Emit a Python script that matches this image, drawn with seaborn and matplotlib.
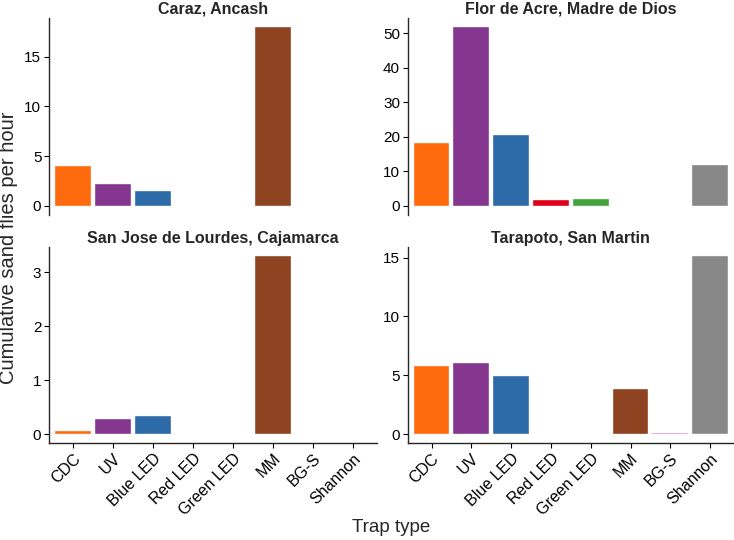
import matplotlib
matplotlib.use("Agg")
import matplotlib.pyplot as plt
import seaborn as sns
import pandas as pd

sns.set_style("ticks")
plt.rcParams['font.family'] = ['Liberation Sans', 'DejaVu Sans']

categories = ["CDC", "UV", "Blue LED", "Red LED", "Green LED", "MM", "BG-S", "Shannon"]
colors = ["#FF6B0C", "#85378F", "#2D6AA8", "#E0001A", "#43A33B", "#8E4321", "#F07EC4", "#888888"]

sites = ["Caraz, Ancash", "Flor de Acre, Madre de Dios",
         "San Jose de Lourdes, Cajamarca", "Tarapoto, San Martin"]

caraz_traps = ["CDC", "UV", "Blue LED", "MM"]
caraz_vals = [3.95, 2.2, 1.5, 18.0]

flor_traps = ["CDC", "UV", "Blue LED", "Red LED", "Green LED", "Shannon"]
flor_vals = [18.1, 51.9, 20.6, 1.65, 1.85, 11.7]

sanjose_traps = ["CDC", "UV", "Blue LED", "MM"]
sanjose_vals = [0.06, 0.28, 0.33, 3.30]

tarapoto_traps = ["CDC", "UV", "Blue LED", "MM", "BG-S", "Shannon"]
tarapoto_vals = [5.8, 6.03, 4.98, 3.82, 0.14, 15.14]

yticks = [[0, 5, 10, 15], [0, 10, 20, 30, 40, 50], [0, 1, 2, 3], [0, 5, 10, 15]]

panel_data = [(caraz_traps, caraz_vals), (flor_traps, flor_vals),
              (sanjose_traps, sanjose_vals), (tarapoto_traps, tarapoto_vals)]

palette = dict(zip(categories, colors))

W, H = 734, 540
fig = plt.figure(figsize=(W / 100, H / 100), dpi=100)

# panel rectangles in pixels: (left, top, width, height)
rects = [(49, 18, 328, 196.6), (407.7, 18, 326.3, 196.6),
         (49, 247, 328, 196.2), (407.7, 247, 326.3, 196.2)]

for i, (site, (traps, vals)) in enumerate(zip(sites, panel_data)):
    l, t, w, h = rects[i]
    ax = fig.add_axes([l / W, 1 - (t + h) / H, w / W, h / H])
    df = pd.DataFrame({"trap": traps, "value": vals})
    sns.barplot(data=df, x="trap", y="value", hue="trap", order=categories,
                hue_order=categories, palette=palette, dodge=False, width=0.9,
                saturation=1, legend=False, ax=ax, edgecolor="#f2f2f2",
                linewidth=0.3)
    vmax = max(vals)
    ax.set_ylim(-0.05 * vmax, 1.05 * vmax)
    ax.set_xlim(-0.6, len(categories) - 1 + 0.6)
    ax.set_yticks(yticks[i])
    ax.set_xlabel("")
    ax.set_ylabel("")
    ax.set_title(site, fontsize=11.5, fontweight="bold", pad=3)
    ax.spines["top"].set_visible(False)
    ax.spines["right"].set_visible(False)
    ax.spines["left"].set_linewidth(1.0)
    ax.tick_params(axis="y", labelsize=11, length=3.5, width=0.8, colors="black", pad=2)
    if i < 2:
        ax.spines["bottom"].set_visible(False)
        ax.tick_params(axis="x", bottom=False, labelbottom=False)
    else:
        ax.spines["bottom"].set_linewidth(1.0)
        ax.tick_params(axis="x", labelsize=11.5, length=3.5, width=0.8, colors="black", pad=2)
        ax.set_xticks(range(len(categories)))
        ax.set_xticklabels(categories, rotation=45, ha="right", va="top",
                           rotation_mode="anchor")

fig.text(9 / W, 1 - 248 / H, "Cumulative sand flies per hour", rotation=90,
         ha="center", va="center", fontsize=14.5)
fig.text(391 / W, 1 - 527 / H, "Trap type", ha="center", va="center", fontsize=13.5)

fig.savefig("out.png", dpi=100)
